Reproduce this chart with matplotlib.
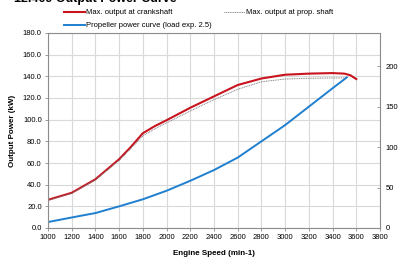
import numpy as np
import matplotlib.pyplot as plt
from matplotlib.ticker import FormatStrFormatter

plt.rcParams['font.family'] = ['Liberation Sans', 'DejaVu Sans']
plt.rcParams['font.size'] = 5.5

# crankshaft output (kW)
rpm_crank = [1000, 1200, 1400, 1600, 1700, 1800, 1900, 2000, 2200, 2400, 2600,
             2800, 3000, 3200, 3400, 3500, 3550, 3600]
kw_crank = [26, 32.5, 45, 63.5, 75, 87.5, 94, 99.5, 111, 121.5, 132,
            138, 141.5, 142.5, 143, 142.5, 141, 137.5]

# prop shaft output (kW)
rpm_prop = [1000, 1200, 1400, 1600, 1700, 1800, 1900, 2000, 2200, 2400, 2600,
            2800, 3000, 3200, 3400, 3520]
kw_prop = [25.5, 32, 44.5, 62.5, 73.5, 85, 91.5, 97, 108, 118.5, 128,
           135, 137.5, 138.2, 138.5, 138.5]

# propeller curve (kW)
rpm_curve = [1000, 1200, 1400, 1600, 1800, 2000, 2200, 2400, 2600, 2800,
             3000, 3200, 3400, 3520]
kw_curve = [5.5, 9.7, 13.8, 20, 26.5, 34.4, 43.6, 53.5, 65, 80,
            95, 112, 129, 139]

x_ticks = list(range(1000, 3801, 200))
kw_ticks = list(range(0, 181, 20))
hp_ticks = [0, 50, 100, 150, 200]

fig = plt.figure(figsize=(4.1, 2.62), dpi=100)
ax = fig.add_axes([48/410, 1-228/262, 332/410, 195/262])

grid_c = '#d9d9d9'
ax.set_xlim(1000, 3800)
ax.set_ylim(0, 180)
ax.set_xticks(x_ticks)
ax.set_yticks(kw_ticks)
ax.yaxis.set_major_formatter(FormatStrFormatter('%.1f'))
ax.grid(True, color=grid_c, lw=0.8)
ax.set_axisbelow(True)
for s in ax.spines.values():
    s.set_color('#8c8c8c')
    s.set_linewidth(0.8)
ax.tick_params(direction='out', length=2.5, width=0.6, color='#8c8c8c',
               labelsize=5.5, pad=2)

l1, = ax.plot(rpm_crank, kw_crank, color='#c8141e', lw=1.5,
              label='Max. output at crankshaft')
l2, = ax.plot(rpm_prop, kw_prop, color='#7f7f7f', lw=0.7, ls=(0, (1, 0.8)),
              label='Max. output at prop. shaft')
l3, = ax.plot(rpm_curve, kw_curve, color='#1f7fd0', lw=1.4,
              label='Propeller power curve (load exp. 2.5)')

ax.set_xlabel('Engine Speed (min-1)', fontweight='bold', fontsize=5.8, labelpad=6)
ax.set_ylabel('Output Power (kW)', fontweight='bold', fontsize=5.8, labelpad=5)

ax2 = ax.twinx()
ax2.set_ylim(0, 180*1.341)
ax2.set_yticks(hp_ticks)
for s in ax2.spines.values():
    s.set_visible(False)
ax2.tick_params(direction='in', length=2.5, width=0.6, color='#8c8c8c',
                labelsize=5.5, pad=4)
ax2.set_ylabel('Output Power (mhp)', fontweight='bold', fontsize=5.8,
               rotation=270, labelpad=18)

fig.legend(handles=[l1, l3, l2], ncol=2, loc='upper left',
           bbox_to_anchor=(64/410, 1-9/262), frameon=False, fontsize=5.5,
           handlelength=2.8, handletextpad=0.1, columnspacing=1.6,
           labelspacing=0.75, borderaxespad=0, borderpad=0)

fig.text(14/410, 1-2/262, '12.409 Output Power Curve', fontweight='bold',
         fontsize=9, va='baseline', ha='left')

fig.savefig('out.png', dpi=100)
